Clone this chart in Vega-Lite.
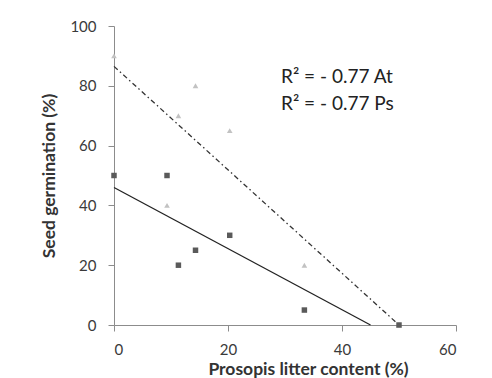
{
  "$schema": "https://vega.github.io/schema/vega-lite/v6.json",
  "width": 342,
  "height": 299,
  "autosize": {"type": "none"},
  "padding": {"left": 114, "top": 26, "right": 36, "bottom": 53},
  "background": "white",
  "config": {
    "view": {"stroke": null},
    "font": "Lato",
    "axis": {
      "grid": false,
      "domainColor": "#8c8c8c",
      "tickColor": "#8c8c8c",
      "tickSize": 6,
      "labelFont": "Lato",
      "labelFontSize": 15,
      "labelColor": "#3a3a3a",
      "titleFont": "Lato",
      "titleFontSize": 17.5,
      "titleFontWeight": "bold",
      "titleColor": "#333333"
    }
  },
  "datasets": {
    "pts": [
      {"x": 0, "y": 50, "s": "Ps"},
      {"x": 9.3, "y": 50, "s": "Ps"},
      {"x": 11.3, "y": 20, "s": "Ps"},
      {"x": 14.3, "y": 25, "s": "Ps"},
      {"x": 20.3, "y": 30, "s": "Ps"},
      {"x": 33.4, "y": 5, "s": "Ps"},
      {"x": 50, "y": 0, "s": "Ps"},
      {"x": 0, "y": 90, "s": "At"},
      {"x": 9.3, "y": 40, "s": "At"},
      {"x": 11.3, "y": 70, "s": "At"},
      {"x": 14.3, "y": 80, "s": "At"},
      {"x": 20.3, "y": 65, "s": "At"},
      {"x": 33.4, "y": 20, "s": "At"},
      {"x": 50, "y": 0, "s": "At"}
    ],
    "trend": [
      {"x": 0, "y": 46, "s": "Ps"},
      {"x": 45, "y": 0, "s": "Ps"},
      {"x": 0, "y": 86.5, "s": "At"},
      {"x": 50, "y": 0, "s": "At"}
    ],
    "labels": [
      {"x": 29.3, "y": 83, "t": "R² = - 0.77  At"},
      {"x": 29.3, "y": 74, "t": "R² = - 0.77  Ps"}
    ]
  },
  "layer": [
    {
      "data": {"name": "trend"},
      "transform": [{"filter": "datum.s === 'Ps'"}],
      "mark": {"type": "line", "color": "#222222", "strokeWidth": 1.3},
      "encoding": {
        "x": {"field": "x", "type": "quantitative", "scale": {"domain": [0, 60]}, "axis": {"values": [0, 20, 40, 60], "title": "Prosopis litter content (%)", "titleX": 194, "titlePadding": 3, "labelPadding": 11}},
        "y": {"field": "y", "type": "quantitative", "scale": {"domain": [0, 100]}, "axis": {"values": [0, 20, 40, 60, 80, 100], "title": "Seed germination (%)", "titlePadding": 11, "labelPadding": 12}}
      }
    },
    {
      "data": {"name": "trend"},
      "transform": [{"filter": "datum.s === 'At'"}],
      "mark": {"type": "line", "color": "#333333", "strokeWidth": 1.3, "strokeDash": [5, 3, 1.5, 3]},
      "encoding": {
        "x": {"field": "x", "type": "quantitative"},
        "y": {"field": "y", "type": "quantitative"}
      }
    },
    {
      "data": {"name": "pts"},
      "transform": [{"filter": "datum.s === 'At'"}],
      "mark": {"type": "point", "shape": "triangle-up", "filled": true, "color": "#c2c2c2", "size": 32, "opacity": 1},
      "encoding": {
        "x": {"field": "x", "type": "quantitative"},
        "y": {"field": "y", "type": "quantitative"}
      }
    },
    {
      "data": {"name": "pts"},
      "transform": [{"filter": "datum.s === 'Ps'"}],
      "mark": {"type": "point", "shape": "square", "filled": true, "color": "#5a5a5a", "size": 30, "opacity": 1},
      "encoding": {
        "x": {"field": "x", "type": "quantitative"},
        "y": {"field": "y", "type": "quantitative"}
      }
    },
    {
      "data": {"name": "labels"},
      "mark": {"type": "text", "align": "left", "baseline": "middle", "fontSize": 19, "font": "Lato", "color": "#222222"},
      "encoding": {
        "x": {"field": "x", "type": "quantitative"},
        "y": {"field": "y", "type": "quantitative"},
        "text": {"field": "t"}
      }
    }
  ]
}
